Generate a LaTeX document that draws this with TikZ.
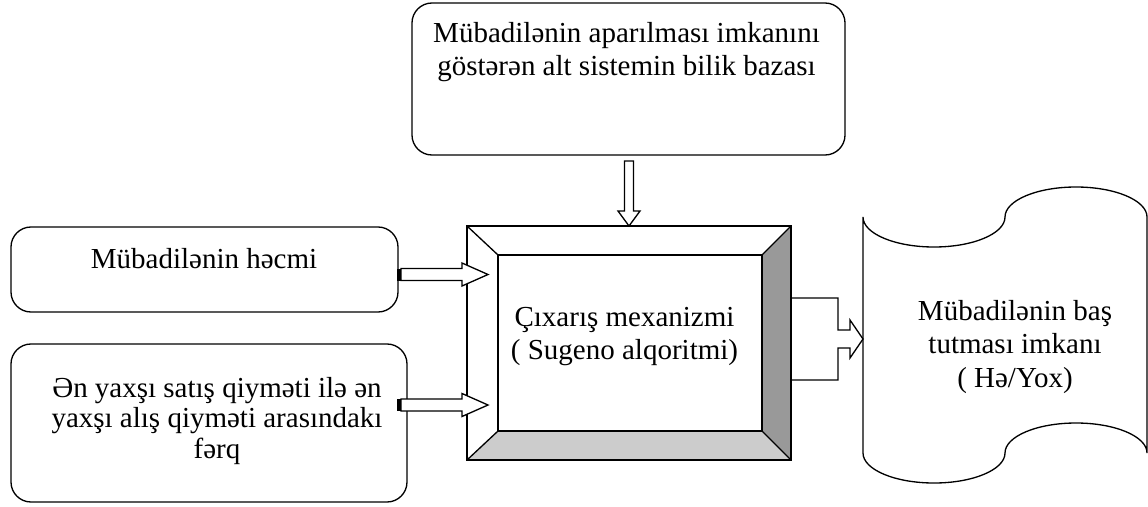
\documentclass[tikz,border=0pt]{standalone}
\usepackage{fontspec}
\setmainfont{Liberation Serif}
\usetikzlibrary{positioning, calc}

\tikzset{
  box/.style={draw, rounded corners=0.4cm, line width=0.75pt, outer sep=0pt},
  txt/.style={align=center, font=\fontsize{16.5}{19}\selectfont},
  barrow/.style={draw, fill=white, line width=0.75pt, line join=miter},
}

\begin{document}
\begin{tikzpicture}
\useasboundingbox (0,0) rectangle (22.96,10.12);

% boxes
\node[box, minimum width=8.66cm, minimum height=3.04cm] (kb) at (12.57,8.54) {};
\node[box, minimum width=7.74cm, minimum height=1.70cm] (in1) at (4.09,4.73) {};
\node[box, minimum width=7.92cm, minimum height=3.16cm] (in2) at (4.18,1.66) {};

% bevelled box
\node[draw, line width=0.75pt, outer sep=0pt, minimum width=6.48cm, minimum height=4.68cm] (mech) at (12.58,3.26) {};
\node[outer sep=0pt, minimum width=5.28cm, minimum height=3.52cm] (mechin) at (12.60,3.26) {};
\fill[black!40] (mech.north east) -- (mechin.north east) -- (mechin.south east) -- (mech.south east) -- cycle;
\fill[black!20] (mech.south west) -- (mechin.south west) -- (mechin.south east) -- (mech.south east) -- cycle;
\draw[line width=0.75pt] (mech.north west) rectangle (mech.south east);
\draw[line width=0.75pt] (mechin.north west) rectangle (mechin.south east);
\foreach \c in {north west, north east, south west, south east}
  \draw[line width=0.75pt] (mech.\c) -- (mechin.\c);

% tape
\draw[line width=0.75pt] (17.26,5.78) arc[start angle=180, end angle=360, x radius=1.42, y radius=0.6]
  arc[start angle=180, end angle=0, x radius=1.42, y radius=0.6]
  -- (22.94,1.06) arc[start angle=0, end angle=180, x radius=1.42, y radius=0.6]
  arc[start angle=0, end angle=-180, x radius=1.42, y radius=0.6] -- cycle;
\coordinate (out) at (17.26,3.34);

% texts
\node[txt] (kbtext) at (12.53,9.08) {Mübadilənin aparılması imkanını\\göstərən alt sistemin bilik bazası};
\node[txt, anchor=base] (in1text) at (4.08,4.76) {Mübadilənin həcmi};
\node[txt, font=\fontsize{16.5}{17.1}\selectfont] (in2text) at (4.34,1.70) {Ən yaxşı satış qiyməti ilə ən\\yaxşı alış qiyməti arasındakı\\fərq};
\node[txt] (mechtext) at (12.49,3.39) {Çıxarış mexanizmi\\( Sugeno alqoritmi)};
\node[txt] (outtext) at (20.30,3.18) {Mübadilənin baş\\tutması imkanı\\( Hə/Yox)};

% arrows
\draw[barrow] (mech.north) -- ++(-0.22,0.30) -- ++(0.13,0) -- ++(0,1.0) -- ++(0.18,0) -- ++(0,-1.0) -- ++(0.13,0) -- cycle;

\coordinate (a1) at (7.94,4.63);
\coordinate (a2) at (7.94,2.02);
\foreach \p in {a1,a2}{
  \fill ($(\p)+(0,-0.12)$) rectangle ($(\p)+(0.08,0.12)$);
  \draw[barrow] ($(\p)+(0.08,0.12)$) -- ++(1.22,0) -- ++(0,0.11) -- ++(0.52,-0.23) -- ++(-0.52,-0.23) -- ++(0,0.11) -- ++(-1.22,0) -- cycle;
}

\draw[barrow, fill=none] (mech.east |- 0,4.16) -- (16.76,4.16) -- (16.76,3.52) -- (17.00,3.52) -- (17.00,3.72)
  -- (out) -- (17.00,2.96) -- (17.00,3.16) -- (16.76,3.16) -- (16.76,2.52) -- (mech.east |- 0,2.52);
\end{tikzpicture}
\end{document}
